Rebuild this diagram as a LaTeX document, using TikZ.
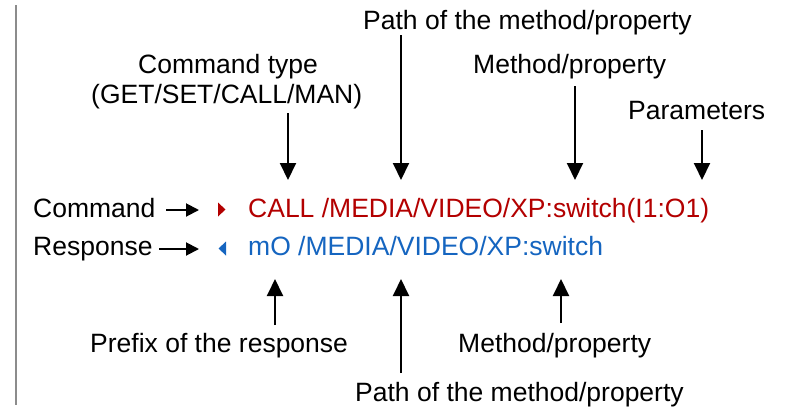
\documentclass[tikz,border=0pt]{standalone}
\usepackage{fontspec}
\setmainfont{Liberation Sans}
\usetikzlibrary{arrows.meta}
\definecolor{cmdred}{HTML}{B30000}
\definecolor{respblue}{HTML}{1565C0}
\definecolor{railgray}{HTML}{8C8C8C}
\begin{document}
\begin{tikzpicture}[x=1pt,y=-1pt,
  lbl/.style={anchor=base west, inner sep=0pt, font=\fontsize{26.5}{30}\selectfont},
  varr/.style={-{Triangle[length=17pt,width=16pt]}, line width=2pt},
  harr/.style={-{Triangle[length=13pt,width=13pt]}, line width=2pt},
]
\useasboundingbox (0,0) rectangle (789,413);
\draw[railgray, line width=1.6pt] (16,5) -- (16,405);

% top labels
\node[lbl] (pathtop) at (363,29) {Path of the method/property};
\node[lbl] (cmdtype) at (138,73) {Command type};
\node[lbl] (cmdtype2) at (91,103) {(GET/SET/CALL/MAN)};
\node[lbl] (methtop) at (473,73) {Method/property};
\node[lbl] (params) at (628,119) {Parameters};

% rows
\node[lbl] (command) at (33,217) {Command};
\node[lbl] (response) at (33,255) {Response};
\node[lbl, text=cmdred] (cmdstr) at (248,217) {CALL /MEDIA/VIDEO/XP:switch(I1:O1)};
\node[lbl, text=respblue] (respstr) at (248,255) {mO /MEDIA/VIDEO/XP:switch};

% bottom labels
\node[lbl] (prefix) at (90,352) {Prefix of the response};
\node[lbl] (methbot) at (458,352) {Method/property};
\node[lbl] (pathbot) at (355,401) {Path of the method/property};

% direction markers
\fill[cmdred] (218,202.5) -- (225.5,209.5) -- (218,216.5) -- cycle;
\fill[respblue] (226,241.5) -- (218.5,248.5) -- (226,255.5) -- cycle;

% arrow end points
\coordinate (c1) at (166,210); \coordinate (c2) at (199,210);
\coordinate (r1) at (159,249); \coordinate (r2) at (199,249);
\coordinate (t1a) at (288,113); \coordinate (t1b) at (288,180);
\coordinate (t2a) at (401,35);  \coordinate (t2b) at (401,180);
\coordinate (t3a) at (575,86);  \coordinate (t3b) at (575,180);
\coordinate (t4a) at (702,130); \coordinate (t4b) at (702,180);
\coordinate (b1a) at (275,325); \coordinate (b1b) at (275,279);
\coordinate (b2a) at (401,373); \coordinate (b2b) at (401,279);
\coordinate (b3a) at (561,323); \coordinate (b3b) at (561,279);

\draw[harr] (c1) -- (c2);
\draw[harr] (r1) -- (r2);
\draw[varr] (t1a) -- (t1b);
\draw[varr] (t2a) -- (t2b);
\draw[varr] (t3a) -- (t3b);
\draw[varr] (t4a) -- (t4b);
\draw[varr] (b1a) -- (b1b);
\draw[varr] (b2a) -- (b2b);
\draw[varr] (b3a) -- (b3b);
\end{tikzpicture}
\end{document}
